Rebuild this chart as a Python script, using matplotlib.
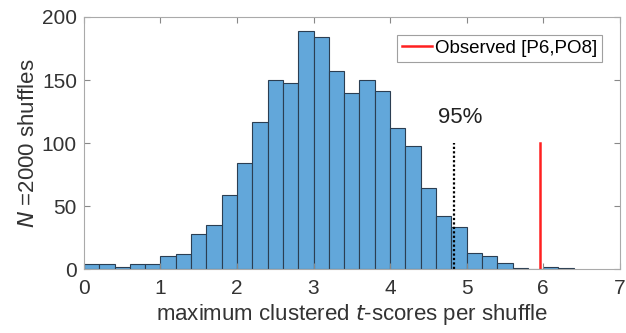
import numpy as np
import matplotlib
matplotlib.use('Agg')
import matplotlib.pyplot as plt

plt.rcParams['font.family'] = ['Liberation Sans', 'DejaVu Sans']

# histogram of max clustered t-scores, bins of 0.2 from 0 to 6.4
bin_edges = np.round(np.arange(0, 6.41, 0.2), 2)
counts = [4, 4, 2, 4, 4, 10, 12, 28, 35, 59, 84, 117, 150, 148, 189, 184,
          157, 140, 150, 141, 112, 98, 64, 42, 33, 13, 10, 5, 1, 0, 2, 1]
thresh_95 = 4.83
observed = 5.955
line_height = 100

fig = plt.figure(figsize=(6.26, 3.33), dpi=100)
ax = fig.add_axes([0.134, 0.192, 0.856, 0.757])

ax.bar(bin_edges[:-1], counts, width=0.2, align='edge',
       facecolor='#62a7da', edgecolor='#2b3e52', linewidth=0.8)
ax.plot([thresh_95, thresh_95], [0, line_height], color='black',
        linestyle=(0, (1, 1)), linewidth=1.6)
ax.plot([observed, observed], [0, line_height], color='#ff2020',
        linewidth=1.8, label='Observed [P6,PO8]')
ax.text(thresh_95 + 0.08, 112, '95%', fontsize=16, ha='center', va='bottom',
        color='#222222')

ax.set_xlim(0, 7)
ax.set_ylim(0, 200)
ax.set_xticks(range(0, 8))
ax.set_yticks([0, 50, 100, 150, 200])
ax.tick_params(direction='in', top=True, right=True, length=4,
               labelsize=15, color='#888888', labelcolor='#333333', pad=5)
ax.tick_params(axis='x', pad=7)
for s in ax.spines.values():
    s.set_color('#aaaaaa')
    s.set_linewidth(0.8)

ax.set_xlabel('maximum clustered $\\it{t}$-scores per shuffle', fontsize=16,
              color='#333333', labelpad=3)
ax.set_ylabel('$\\it{N}$ =2000 shuffles', fontsize=16, color='#333333', labelpad=2)

leg = ax.legend(loc='upper right', fontsize=13.5, frameon=True, fancybox=False,
                handlelength=1.6, handletextpad=0.2, borderpad=0.25,
                bbox_to_anchor=(0.985, 0.965))
leg.get_frame().set_edgecolor('#888888')
leg.get_frame().set_linewidth(0.8)

fig.savefig('out.png', dpi=100)
